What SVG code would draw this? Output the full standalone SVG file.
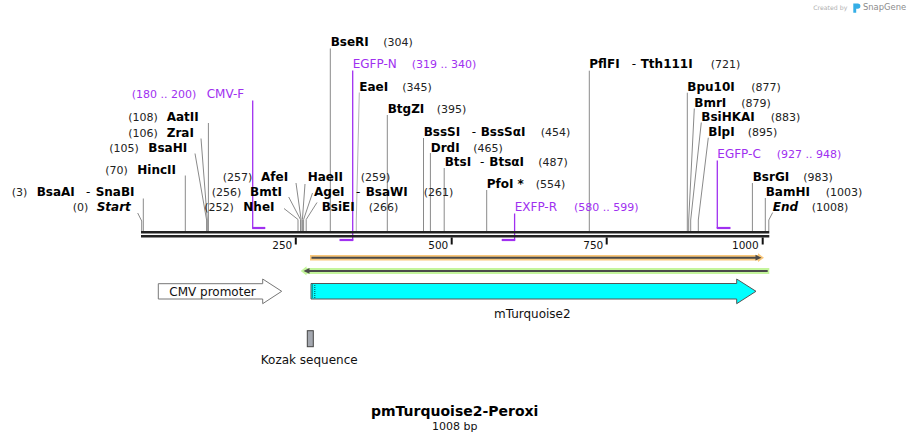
<svg xmlns="http://www.w3.org/2000/svg" width="911" height="441" viewBox="0 0 911 441">
<style>
text{font-family:"DejaVu Sans",Verdana,sans-serif}
.n{font-size:12px;font-weight:bold;fill:#000}
.i{font-size:12px;font-weight:bold;font-style:italic;fill:#000}
.d{font-size:12px;fill:#000}
.num{font-size:11px;fill:#222}
.p{font-size:12px;fill:#a030f0}
.pn{font-size:11px;fill:#a030f0}
.site{stroke:#8a8a8a;stroke-width:1;fill:none}
.site2{stroke:#b4b4b4;stroke-width:1;fill:none}
.pv{stroke:#a030f0;stroke-width:1.3;fill:none}
.ph{stroke:#a030f0;stroke-width:2.2;fill:none}
.bar{stroke:#222;stroke-width:2.6}
.tick{stroke:#111;stroke-width:2}
.tl{font-size:10.5px;fill:#111;text-anchor:end}
.feat{font-size:12px;fill:#111}
</style>

<!-- watermark -->
<g id="watermark">
<text x="813.3" y="9.5" style="font-size:6.2px;fill:#b0b0b0">Created by</text>
<path d="M853.3 3.5 h4.5 a2.6 2.6 0 0 1 0 5.2 h-1.6 v4 h-2.9 z" fill="#35aee6"/>
<text x="863" y="10.4" style="font-size:8.4px;fill:#8c8c8c">SnapGene</text>
</g>

<!-- connectors: site lines and primer markers -->
<g id="connectors">
<polyline class="site" points="137.7,213 141.7,221 141.7,231"/>
<polyline class="site" points="143.3,198.5 143.3,231"/>
<polyline class="site" points="185.3,175.5 185.3,231"/>
<polyline class="site" points="195,153.5 206.6,220 206.6,231"/>
<polyline class="site" points="201,138.5 207.3,220 207.3,231"/>
<polyline class="site" points="208.4,123 208.4,231"/>
<polyline class="site" points="284,208.5 298,219.5 298,231"/>
<polyline class="site" points="288.7,197 300.5,219.5 300.5,231"/>
<polyline class="site" points="296,183 301.1,219.5 301.1,231"/>
<polyline class="site" points="305,184 302.4,219.5 302.4,231"/>
<polyline class="site" points="312.5,193 303.6,219.5 303.6,231"/>
<polyline class="site" points="317,202.5 306.2,219.5 306.2,231"/>
<polyline class="site" points="330.3,48.5 330.3,231"/>
<polyline class="site2" points="359.3,92.5 356.3,220 356.3,231"/>
<polyline class="site" points="387.3,115 387.3,231"/>
<polyline class="site" points="423.5,138 423.5,231"/>
<polyline class="site" points="430.4,153 430.4,231"/>
<polyline class="site" points="444.2,168 444.2,231"/>
<polyline class="site" points="486.7,190 486.7,231"/>
<polyline class="site" points="589.3,70.7 589.3,231"/>
<polyline class="site" points="687.3,92.7 687.3,231"/>
<polyline class="site" points="694.3,108.5 688.7,220 688.7,231"/>
<polyline class="site" points="701.3,122.5 690.7,220 690.7,231"/>
<polyline class="site" points="708.3,137.7 698.3,220 698.3,231"/>
<polyline class="site" points="752.4,183 752.4,231"/>
<polyline class="site" points="765.3,198 765.3,231"/>
<polyline class="site" points="772.7,212.5 768.8,220 768.8,231"/>

<line class="pv" x1="252.7" y1="100.5" x2="252.7" y2="228"/>
<line class="ph" x1="252.1" y1="228" x2="265.3" y2="228"/>
<line class="pv" x1="352.7" y1="70.5" x2="352.7" y2="240.5"/>
<line class="ph" x1="339.5" y1="240" x2="353.3" y2="240"/>
<line class="pv" x1="514.6" y1="213.5" x2="514.6" y2="240.5"/>
<line class="ph" x1="501.7" y1="240" x2="515.2" y2="240"/>
<line class="pv" x1="717.3" y1="160.5" x2="717.3" y2="228"/>
<line class="ph" x1="716.7" y1="228" x2="730.5" y2="228"/>
</g>

<!-- sequence bar and ruler -->
<g id="sequence">
<line class="bar" x1="141" y1="232.3" x2="769.3" y2="232.3"/>
<line class="bar" x1="141" y1="236.3" x2="769.3" y2="236.3"/>
<line class="tick" x1="295.8" y1="237.5" x2="295.8" y2="244.5"/>
<line class="tick" x1="451.7" y1="237.5" x2="451.7" y2="244.5"/>
<line class="tick" x1="606.7" y1="237.5" x2="606.7" y2="244.5"/>
<line class="tick" x1="762.7" y1="237.5" x2="762.7" y2="244.5"/>
<text class="tl" x="292.3" y="248.5">250</text>
<text class="tl" x="448.3" y="248.5">500</text>
<text class="tl" x="603.3" y="248.5">750</text>
<text class="tl" x="758.7" y="248.5">1000</text>
</g>

<!-- enzyme sites -->
<g id="site-start"><text class="num" x="72.7" y="211.2">(0)</text><text class="i" x="96.7" y="211.2">Start</text></g>
<g id="site-bsaai"><text class="num" x="11.7" y="196.3">(3)</text><text class="n" x="36.7" y="196.3">BsaAI</text><text class="d" x="86" y="196.3">-</text><text class="n" x="95.7" y="196.3">SnaBI</text></g>
<g id="site-hincii"><text class="num" x="105.3" y="173.7">(70)</text><text class="n" x="137.3" y="173.7">HincII</text></g>
<g id="site-bsahi"><text class="num" x="109.3" y="151.5">(105)</text><text class="n" x="148.3" y="151.5">BsaHI</text></g>
<g id="site-zrai"><text class="num" x="128.3" y="136.5">(106)</text><text class="n" x="166.7" y="136.5">ZraI</text></g>
<g id="site-aatii"><text class="num" x="128.3" y="121">(108)</text><text class="n" x="166.7" y="121">AatII</text></g>
<g id="primer-cmvf"><text class="pn" x="131.7" y="98.4">(180 .. 200)</text><text class="p" x="206.7" y="98.4">CMV-F</text></g>
<g id="site-afei"><text class="num" x="222.7" y="181.3">(257)</text><text class="n" x="261" y="181.3">AfeI</text></g>
<g id="site-bmti"><text class="num" x="211.7" y="196.3">(256)</text><text class="n" x="250" y="196.3">BmtI</text></g>
<g id="site-nhei"><text class="num" x="204.3" y="211.2">(252)</text><text class="n" x="243.3" y="211.2">NheI</text></g>
<g id="site-haeii"><text class="n" x="307.7" y="181.3">HaeII</text><text class="num" x="360.7" y="181.3">(259)</text></g>
<g id="site-agei"><text class="n" x="314" y="196.3">AgeI</text><text class="d" x="356" y="196.3">-</text><text class="n" x="365.7" y="196.3">BsaWI</text><text class="num" x="423.7" y="196.3">(261)</text></g>
<g id="site-bsiei"><text class="n" x="321.7" y="211.2">BsiEI</text><text class="num" x="368.7" y="211.2">(266)</text></g>
<g id="site-bseri"><text class="n" x="330.7" y="46.1">BseRI</text><text class="num" x="383.3" y="46.1">(304)</text></g>
<g id="primer-egfpn"><text class="p" x="352.7" y="68">EGFP-N</text><text class="pn" x="411.7" y="68">(319 .. 340)</text></g>
<g id="site-eaei"><text class="n" x="359.3" y="91">EaeI</text><text class="num" x="402.3" y="91">(345)</text></g>
<g id="site-btgzi"><text class="n" x="387.7" y="113.4">BtgZI</text><text class="num" x="436.7" y="113.4">(395)</text></g>
<g id="site-bsssi"><text class="n" x="423.7" y="136">BssSI</text><text class="d" x="471.7" y="136">-</text><text class="n" x="480.7" y="136">BssSαI</text><text class="num" x="540.7" y="136">(454)</text></g>
<g id="site-drdi"><text class="n" x="430.7" y="151.5">DrdI</text><text class="num" x="473.3" y="151.5">(465)</text></g>
<g id="site-btsi"><text class="n" x="444.7" y="166">BtsI</text><text class="d" x="480" y="166">-</text><text class="n" x="489.3" y="166">BtsαI</text><text class="num" x="538.3" y="166">(487)</text></g>
<g id="site-pfoi"><text class="n" x="486.7" y="187.7">PfoI *</text><text class="num" x="535.7" y="187.7">(554)</text></g>
<g id="primer-exfpr"><text class="p" x="514.7" y="211.2">EXFP-R</text><text class="pn" x="574" y="211.2">(580 .. 599)</text></g>
<g id="site-pflfi"><text class="n" x="589.3" y="68.4">PflFI</text><text class="d" x="631.7" y="68.4">-</text><text class="n" x="640.7" y="68.4">Tth111I</text><text class="num" x="710.7" y="68.4">(721)</text></g>
<g id="site-bpu10i"><text class="n" x="687.3" y="91">Bpu10I</text><text class="num" x="751.3" y="91">(877)</text></g>
<g id="site-bmri"><text class="n" x="694.3" y="106.7">BmrI</text><text class="num" x="741.3" y="106.7">(879)</text></g>
<g id="site-bsihkai"><text class="n" x="701.3" y="121">BsiHKAI</text><text class="num" x="770.7" y="121">(883)</text></g>
<g id="site-blpi"><text class="n" x="708.3" y="136">BlpI</text><text class="num" x="747.7" y="136">(895)</text></g>
<g id="primer-egfpc"><text class="p" x="717.3" y="158.4">EGFP-C</text><text class="pn" x="776.7" y="158.4">(927 .. 948)</text></g>
<g id="site-bsrgi"><text class="n" x="752.7" y="181.3">BsrGI</text><text class="num" x="803.3" y="181.3">(983)</text></g>
<g id="site-bamhi"><text class="n" x="765.7" y="196.3">BamHI</text><text class="num" x="825.7" y="196.3">(1003)</text></g>
<g id="site-end"><text class="i" x="772.7" y="211.2">End</text><text class="num" x="811.7" y="211.2">(1008)</text></g>

<!-- ORFs -->
<g id="orf-forward">
<polygon points="310,255 758,255 758,253.3 764,257.7 758,262.1 758,260.5 310,260.5" fill="#f9c77b"/>
<line x1="311.5" y1="257.7" x2="757" y2="257.7" stroke="#4a4a4a" stroke-width="2"/>
<polygon points="755.5,254.8 761.5,257.7 755.5,260.6" fill="#4a4a4a"/>
</g>
<g id="orf-reverse">
<polygon points="769.3,268 306.5,268 306.5,266.3 300.7,270.9 306.5,275.5 306.5,274 769.3,274" fill="#c4f59c"/>
<line x1="308" y1="270.9" x2="767.7" y2="270.9" stroke="#4a4a4a" stroke-width="2"/>
<polygon points="309.5,268 303.5,270.9 309.5,273.8" fill="#4a4a4a"/>
</g>

<!-- features -->
<g id="feature-cmv">
<polygon points="158.3,283.7 262.7,283.7 262.7,279 281.7,291.3 262.7,303.7 262.7,299 158.3,299" fill="#fff" stroke="#777" stroke-width="1"/>
<text class="feat" x="212.5" y="295.6" text-anchor="middle">CMV promoter</text>
</g>
<g id="feature-mturquoise2">
<polygon points="311,283.5 736.7,283.5 736.7,279 756,291.3 736.7,303.7 736.7,299 311,299" fill="#00ffff" stroke="#555" stroke-width="1"/>
<line x1="312.5" y1="284.5" x2="312.5" y2="298" stroke="#000" stroke-width="0.7" stroke-dasharray="1 1"/>
<line x1="314.8" y1="285" x2="314.8" y2="298" stroke="#000" stroke-width="0.7" stroke-dasharray="1 1"/>
<text class="feat" x="532.3" y="317.5" text-anchor="middle">mTurquoise2</text>
</g>
<g id="feature-kozak">
<rect x="307.3" y="330.7" width="6" height="16" fill="#a4a8b0" stroke="#444" stroke-width="1"/>
<text class="feat" x="309.2" y="364" text-anchor="middle">Kozak sequence</text>
</g>

<!-- title -->
<g id="title">
<text x="454.7" y="415.5" text-anchor="middle" style="font-size:14px;font-weight:bold;fill:#000">pmTurquoise2-Peroxi</text>
<text x="454.7" y="430" text-anchor="middle" style="font-size:11px;fill:#111">1008 bp</text>
</g>
</svg>
